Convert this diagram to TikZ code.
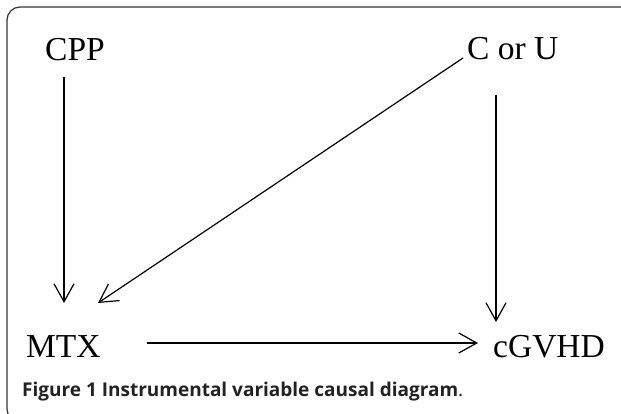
\documentclass[tikz,border=0pt]{standalone}
\usepackage{fontspec}
\setmainfont{Liberation Serif}
\newfontfamily\capfont{Open Sans}
\usetikzlibrary{arrows.meta}
\definecolor{framegray}{HTML}{333333}
\definecolor{captext}{HTML}{222222}
\tikzset{
  lbl/.style={anchor=base west, inner sep=0pt, font=\fontsize{33.5}{36}\selectfont, text=black},
  arr/.style={line width=1.2pt, -{Straight Barb[length=18pt,width=20pt,line width=1.2pt]}},
  frame/.style={draw=framegray, line width=1.2pt, rounded corners=13pt},
}
\begin{document}
\begin{tikzpicture}[x=1pt,y=-1pt]
\useasboundingbox (0,0) rectangle (621,414);
\clip (0,0) rectangle (621,414);
\fill[white] (0,0) rectangle (621,414);
\draw[frame] (650,7) -- (7,7) -- (7,422) -- (650,422);
\node[lbl] (cpp) at (45,61) {CPP};
\node[lbl] (cu) at (467,60) {C or U};
\node[lbl] (mtx) at (26,357) {MTX};
\node[lbl] (cg) at (493,357) {cGVHD};
\coordinate (cppout) at (64,77);
\coordinate (mtxin1) at (64,303);
\coordinate (cuout1) at (463,58);
\coordinate (mtxin2) at (98,303);
\coordinate (cuout2) at (496,95);
\coordinate (cgin1) at (496,322);
\coordinate (mtxout) at (147,343);
\coordinate (cgin2) at (478,343);
\draw[arr] (cppout) -- (mtxin1);
\draw[arr] (cuout1) -- (mtxin2);
\draw[arr] (cuout2) -- (cgin1);
\draw[arr] (mtxout) -- (cgin2);
\node[anchor=base west, inner sep=0pt, text=captext, font=\capfont\fontsize{19}{21}\selectfont] (cap) at (22,396) {\textbf{Figure 1 Instrumental variable causal diagram}.};
\end{tikzpicture}
\end{document}
